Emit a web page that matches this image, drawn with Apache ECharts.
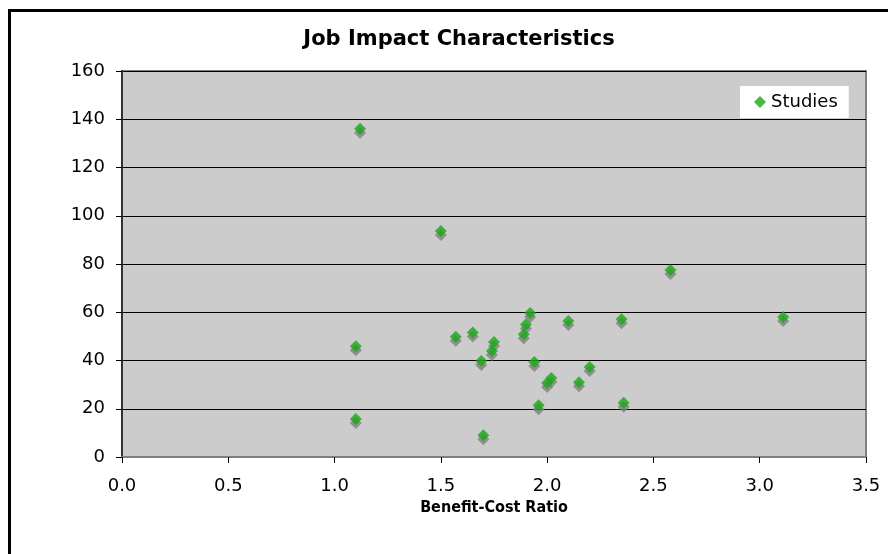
<!DOCTYPE html>
<html>
<head>
<meta charset="utf-8">
<script src="https://cdn.jsdelivr.net/npm/echarts@6/dist/echarts.min.js"></script>
<style>
  html, body { margin: 0; padding: 0; background: #ffffff; }
  #chart { width: 888px; height: 554px; }
</style>
</head>
<body>
<div id="chart"></div>
<script>
// Benefit-cost ratio (x) and job impact (y) for each study
const benefitCost = [1.12, 1.10, 1.10, 1.50, 2.58, 1.92, 1.90, 1.89, 2.10, 2.35, 3.11,
                     1.57, 1.65, 1.75, 1.74, 1.69, 1.94, 2.20, 2.02, 2.00, 2.15, 1.96, 2.36, 1.70];
const jobImpact   = [136.1, 45.9, 15.8, 93.7, 77.5, 59.7, 54.9, 50.9, 56.4, 57.1, 58.0,
                     49.8, 51.6, 47.7, 43.9, 39.8, 39.4, 37.3, 32.7, 30.7, 31.0, 21.4, 22.5, 9.0];
const seriesName = 'Studies';
const chartTitle = 'Job Impact Characteristics';
const xAxisTitle = 'Benefit-Cost Ratio';

const points = benefitCost.map((x, i) => [x, jobImpact[i]]);
const font = 'DejaVu Sans, Verdana, sans-serif';

const chart = echarts.init(document.getElementById('chart'), null, { renderer: 'canvas' });
chart.setOption({
  animation: false,
  backgroundColor: '#ffffff',
  textStyle: { fontFamily: font },
  graphic: [
    {
      type: 'rect',
      shape: { x: 9.5, y: 10.5, width: 1000, height: 1000 },
      style: { fill: 'none', stroke: '#000000', lineWidth: 3 },
      silent: true, z: 0
    },
    {
      type: 'text',
      x: 459, y: 40,
      style: {
        text: chartTitle,
        font: 'bold 21px "DejaVu Sans", Verdana, sans-serif',
        fill: '#000000', align: 'center', verticalAlign: 'middle'
      },
      z: 10
    }
  ],
  grid: {
    left: 122, top: 71, width: 744, height: 386,
    show: true, backgroundColor: '#cccccc',
    borderColor: '#808080', borderWidth: 2
  },
  legend: {
    data: [seriesName],
    left: 740, top: 86,
    backgroundColor: '#ffffff',
    padding: [7, 11, 7, 14],
    itemWidth: 12, itemHeight: 12, itemGap: 5,
    icon: 'diamond',
    textStyle: { fontSize: 18, color: '#000000', fontFamily: font }
  },
  xAxis: {
    type: 'value', min: 0, max: 3.5, interval: 0.5,
    name: xAxisTitle, nameLocation: 'middle', nameGap: 33,
    nameTextStyle: { fontWeight: 'bold', fontSize: 16, color: '#000000',
                     fontFamily: '"DejaVu Sans Condensed", "DejaVu Sans", sans-serif' },
    axisLine: { show: true, lineStyle: { color: '#808080', width: 2 } },
    axisTick: { show: true, length: 6, inside: false, lineStyle: { color: '#000000', width: 1 } },
    axisLabel: { fontSize: 18, color: '#000000', margin: 20, formatter: v => v.toFixed(1) },
    splitLine: { show: false }
  },
  yAxis: {
    type: 'value', min: 0, max: 160, interval: 20,
    axisLine: { show: true, lineStyle: { color: '#333333', width: 2 } },
    axisTick: { show: true, length: 6, inside: false, lineStyle: { color: '#000000', width: 1 } },
    axisLabel: { fontSize: 18, color: '#000000', margin: 17 },
    splitLine: { show: true, lineStyle: { color: '#000000', width: 1 } }
  },
  series: [{
    name: seriesName,
    type: 'scatter',
    data: points,
    symbol: 'diamond',
    symbolSize: 12,
    itemStyle: {
      color: '#1aa816',
      shadowColor: '#7f7f7f', shadowBlur: 0, shadowOffsetX: 0, shadowOffsetY: 4
    }
  }]
});
</script>
</body>
</html>
